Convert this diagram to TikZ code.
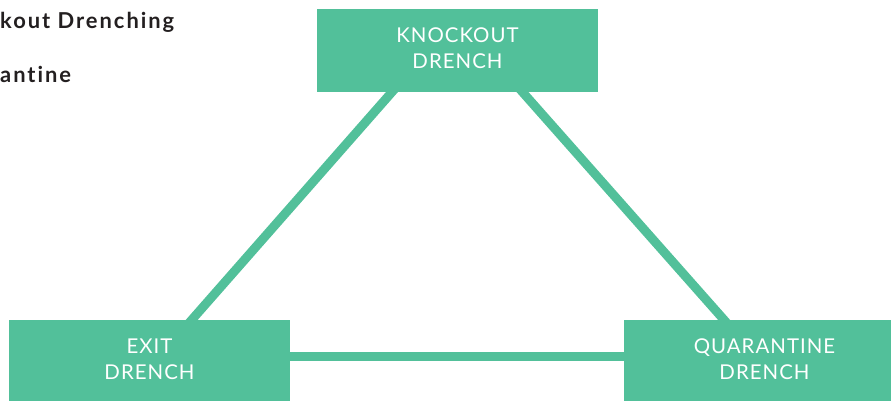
\documentclass[tikz,border=0pt]{standalone}
\usepackage{fontspec}
\setmainfont{Lato}
\newfontfamily\boxfont{Lato}[LetterSpace=5]
\newfontfamily\legendfont{Lato}[LetterSpace=9, Ligatures=NoCommon]
\usetikzlibrary{positioning}
\definecolor{drenchgreen}{RGB}{82,192,154}
\definecolor{legenddark}{RGB}{35,31,32}
\tikzset{
    drenchbox/.style={fill=drenchgreen, draw=none, minimum width=281bp, minimum height=83bp,
        text=white, align=center, font=\boxfont\fontsize{20.5}{25.5}\selectfont,
        inner sep=0pt, text depth=5bp},
    link/.style={drenchgreen, line width=9bp},
    legend/.style={anchor=base west, inner sep=0pt, text=legenddark,
        font=\legendfont\fontsize{22}{24}\selectfont\bfseries}
}
\begin{document}
\begin{tikzpicture}[x=1bp, y=-1bp]
    % Frame
    \useasboundingbox (0,0) rectangle (891,400);
    \clip (0,0) rectangle (891,400);
    %%%
    %%% Triangle
    %%%
    \coordinate (apex) at (457,18);
    \coordinate (exitc) at (160,356);
    \coordinate (quarc) at (756,356);
    \foreach \a/\b in {apex/exitc, apex/quarc, exitc/quarc}
    {
        \draw[link] (\a) -- (\b);
    }
    %%%
    %%% Boxes
    %%%
    \node[drenchbox] (knockout) at (457.5,50.5) {KNOCKOUT\\DRENCH};
    \node[drenchbox] (exit) at (149.5,361.5) {EXIT\\DRENCH};
    \node[drenchbox] (quarantine) at (764.5,361.5) {QUARANTINE\\DRENCH};
    % Legend (cut at the left edge)
    \node[legend] (legknock) at (0,28) {kout Drenching};
    \node[legend] (legquar) at (0,82) {antine};
\end{tikzpicture}
\end{document}
